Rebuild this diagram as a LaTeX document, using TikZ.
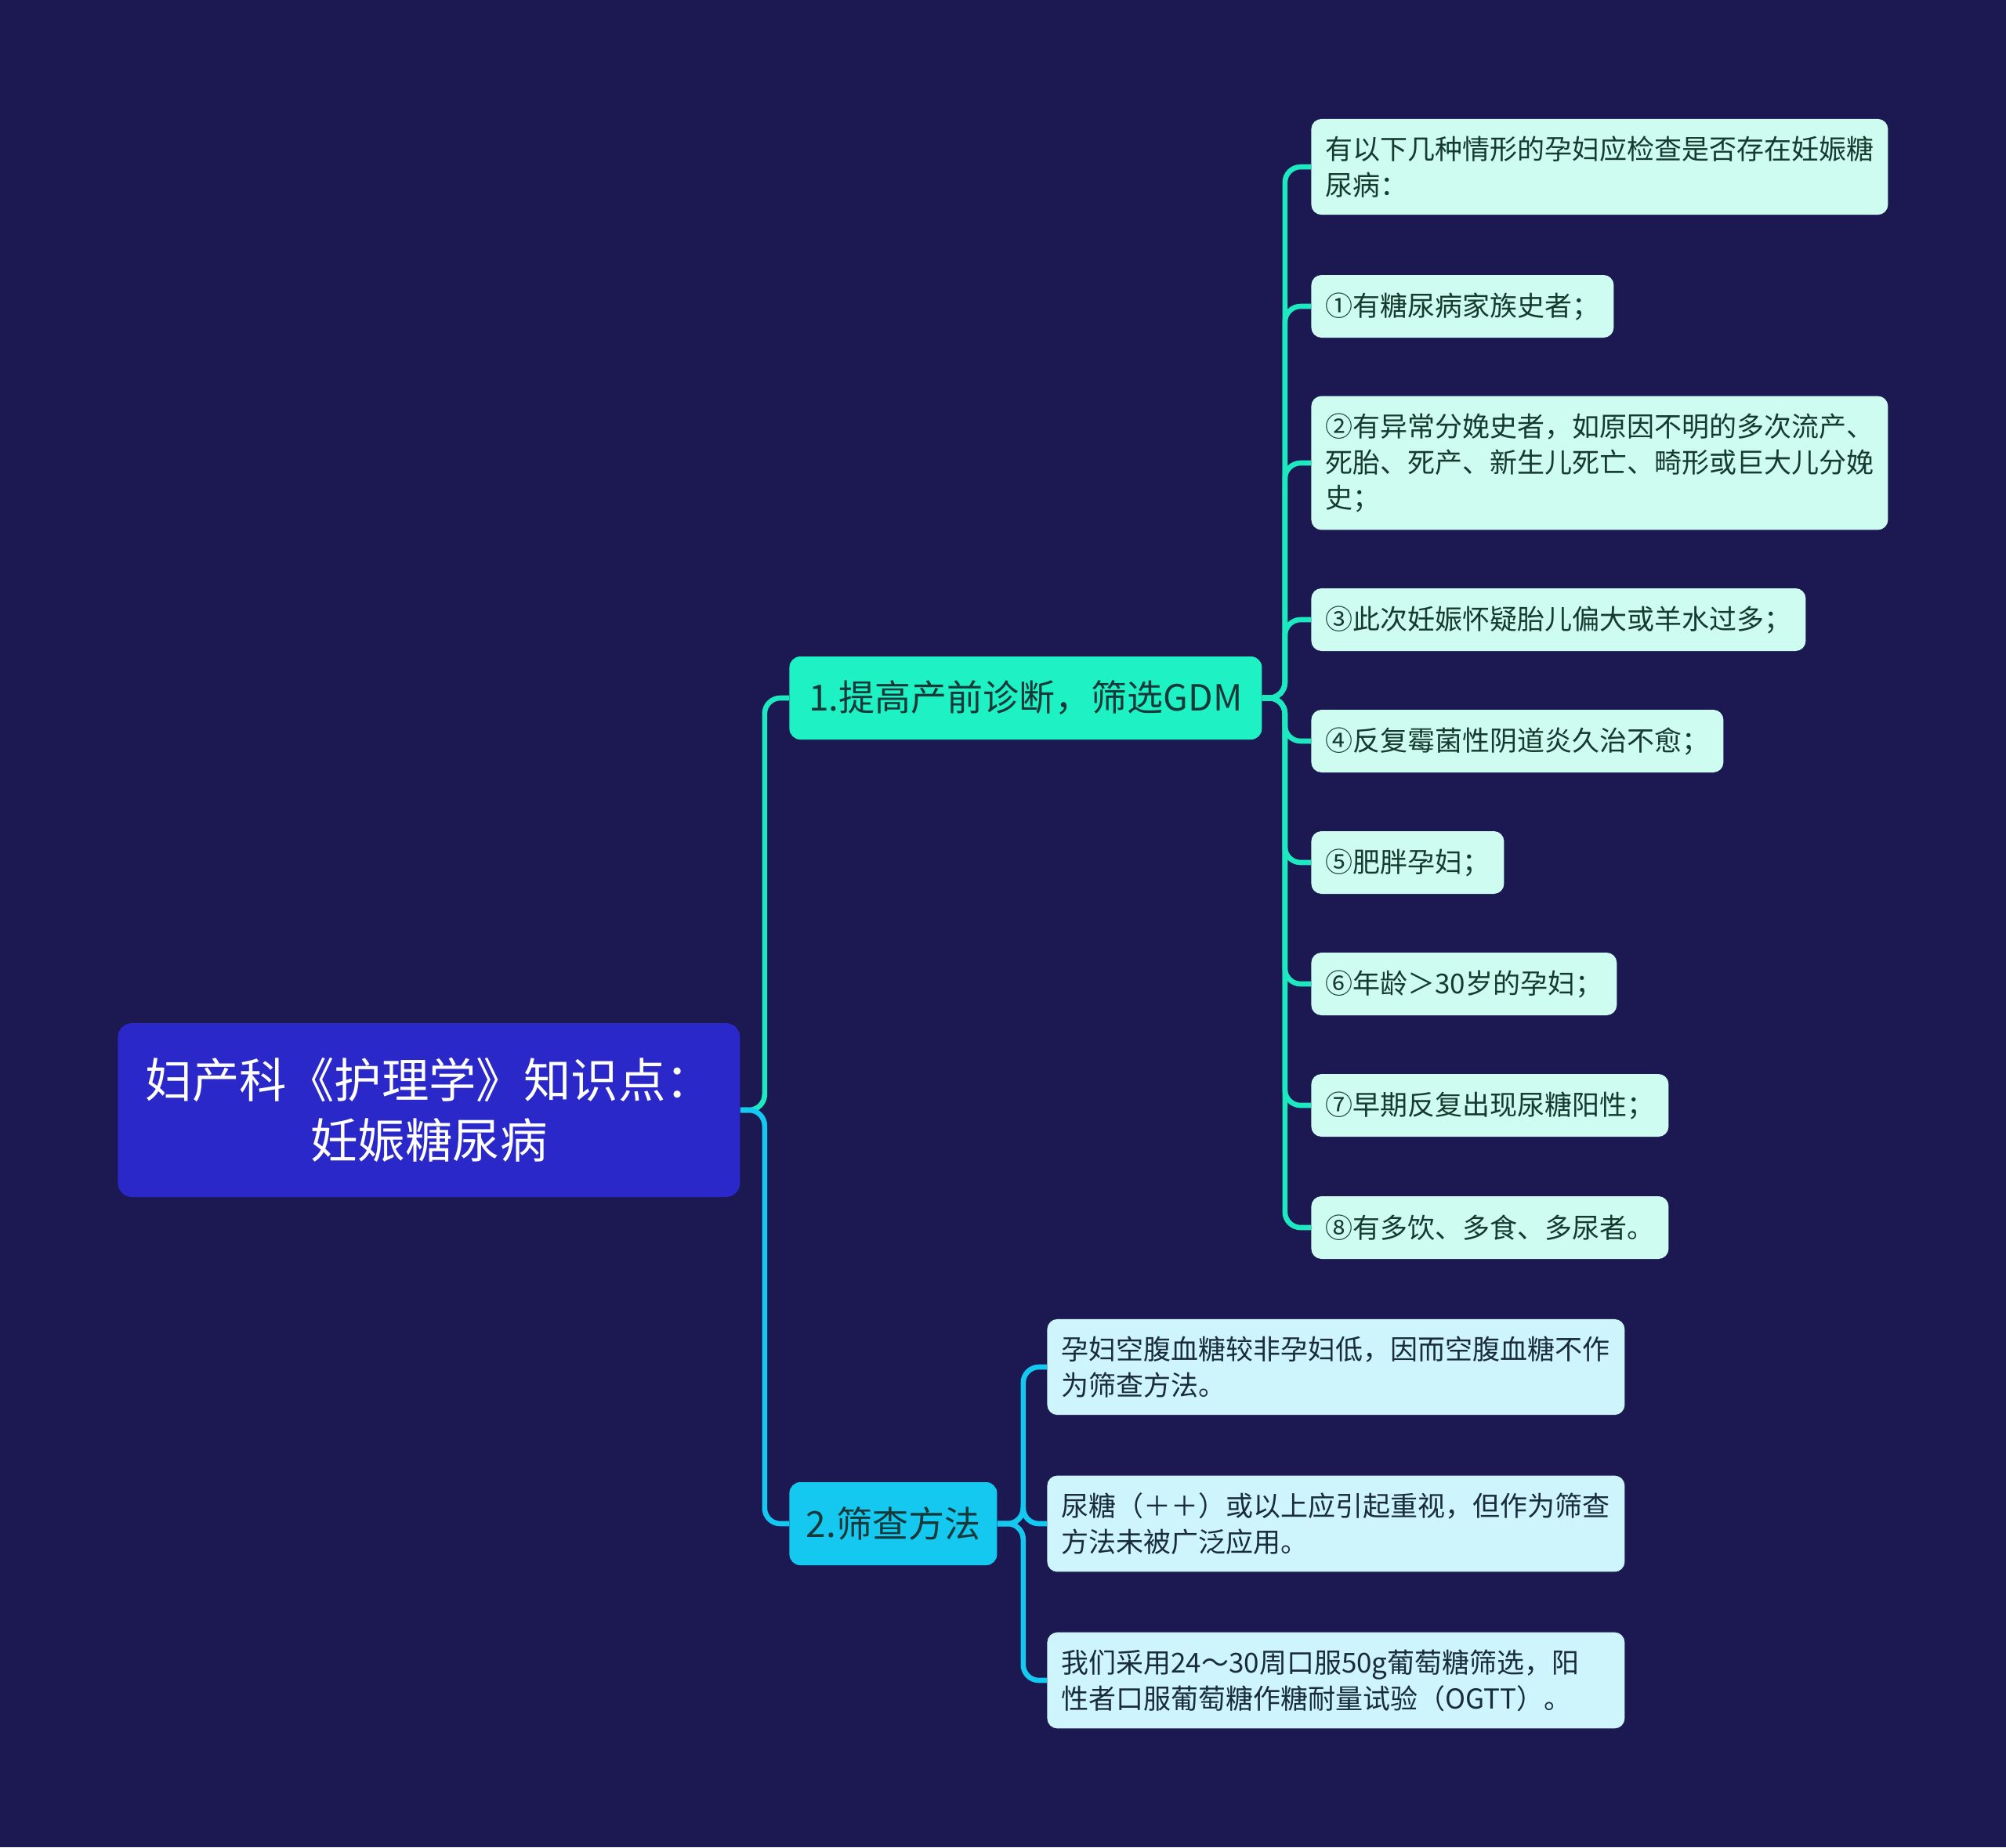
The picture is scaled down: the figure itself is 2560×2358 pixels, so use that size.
\documentclass[tikz,border=0pt]{standalone}
\usepackage{fontspec}
\setmainfont{Noto Sans CJK SC}
\usetikzlibrary{positioning}
\definecolor{MapBg}{RGB}{27,24,82}
\definecolor{RootFill}{RGB}{42,40,200}
\definecolor{TealLine}{RGB}{30,232,192}
\definecolor{TealFill}{RGB}{30,242,196}
\definecolor{CyanLine}{RGB}{20,200,240}
\definecolor{MintFill}{RGB}{206,252,240}
\definecolor{IceFill}{RGB}{206,244,252}
\definecolor{LeafText}{RGB}{22,58,46}
\definecolor{IceText}{RGB}{24,44,60}
\definecolor{TopicText}{RGB}{22,56,56}

\begin{document}
\begin{tikzpicture}[x=0.5pt,y=-0.5pt,
rootbox/.style={rectangle,rounded corners=9pt,fill=RootFill,text=white,anchor=west,align=center,
  minimum width=397pt,minimum height=111pt,font=\fontsize{30.2pt}{38.5pt}\selectfont},
topic/.style={rectangle,rounded corners=7pt,text=TopicText,anchor=west,
  minimum height=53pt,font=\fontsize{23pt}{28pt}\selectfont},
leaf/.style={rectangle,rounded corners=6.5pt,fill=MintFill,text=LeafText,anchor=west,align=left,
  inner xsep=9pt,inner ysep=11pt,minimum height=40pt,font=\fontsize{17.5pt}{22.9pt}\selectfont},
iceleaf/.style={leaf,fill=IceFill,text=IceText,text width=350.5pt},
tealwire/.style={draw=TealLine,line width=3.3pt,rounded corners=10pt},
cyanwire/.style={draw=CyanLine,line width=3.3pt,rounded corners=10pt}
]
\fill[MapBg] (0,0) rectangle (2560,2358);
% root and topics
\node[rootbox] (root) at (150,1417) {妇产科《护理学》知识点：\\妊娠糖尿病};
\node[topic,fill=TealFill,minimum width=301.5pt] (scr) at (1007,891) {1.提高产前诊断，筛选GDM};
\node[topic,fill=CyanLine,minimum width=132.5pt] (mth) at (1007,1945) {2.筛查方法};
\draw[tealwire] (root.east) -- ++(15.5pt,0) |- (scr.west);
\draw[cyanwire] (root.east) -- ++(15.5pt,0) |- (mth.west);
% who should be checked
\node[leaf] (w0) at (1673,213) {有以下几种情形的孕妇应检查是否存在妊娠糖\\尿病：};
\node[leaf] (w1) at (1673,391) {①有糖尿病家族史者；};
\node[leaf] (w2) at (1673,591) {②有异常分娩史者，如原因不明的多次流产、\\死胎、死产、新生儿死亡、畸形或巨大儿分娩\\史；};
\node[leaf] (w3) at (1673,791) {③此次妊娠怀疑胎儿偏大或羊水过多；};
\node[leaf] (w4) at (1673,946) {④反复霉菌性阴道炎久治不愈；};
\node[leaf] (w5) at (1673,1101) {⑤肥胖孕妇；};
\node[leaf] (w6) at (1673,1256) {⑥年龄＞30岁的孕妇；};
\node[leaf] (w7) at (1673,1411) {⑦早期反复出现尿糖阳性；};
\node[leaf] (w8) at (1673,1567) {⑧有多饮、多食、多尿者。};
\foreach \w in {w0,w1,w2,w3,w4,w5,w6,w7,w8}
  \draw[tealwire] (scr.east) -- ++(14.5pt,0) |- (\w.west);
% screening methods
\node[iceleaf] (m0) at (1336,1745) {孕妇空腹血糖较非孕妇低，因而空腹血糖不作\\为筛查方法。};
\node[iceleaf] (m1) at (1336,1945) {尿糖（＋＋）或以上应引起重视，但作为筛查\\方法未被广泛应用。};
\node[iceleaf] (m2) at (1336,2145) {我们采用24～30周口服50g葡萄糖筛选，阳\\性者口服葡萄糖作糖耐量试验（OGTT）。};
\foreach \m in {m0,m1,m2}
  \draw[cyanwire] (mth.east) -- ++(16.5pt,0) |- (\m.west);
\end{tikzpicture}
\end{document}
